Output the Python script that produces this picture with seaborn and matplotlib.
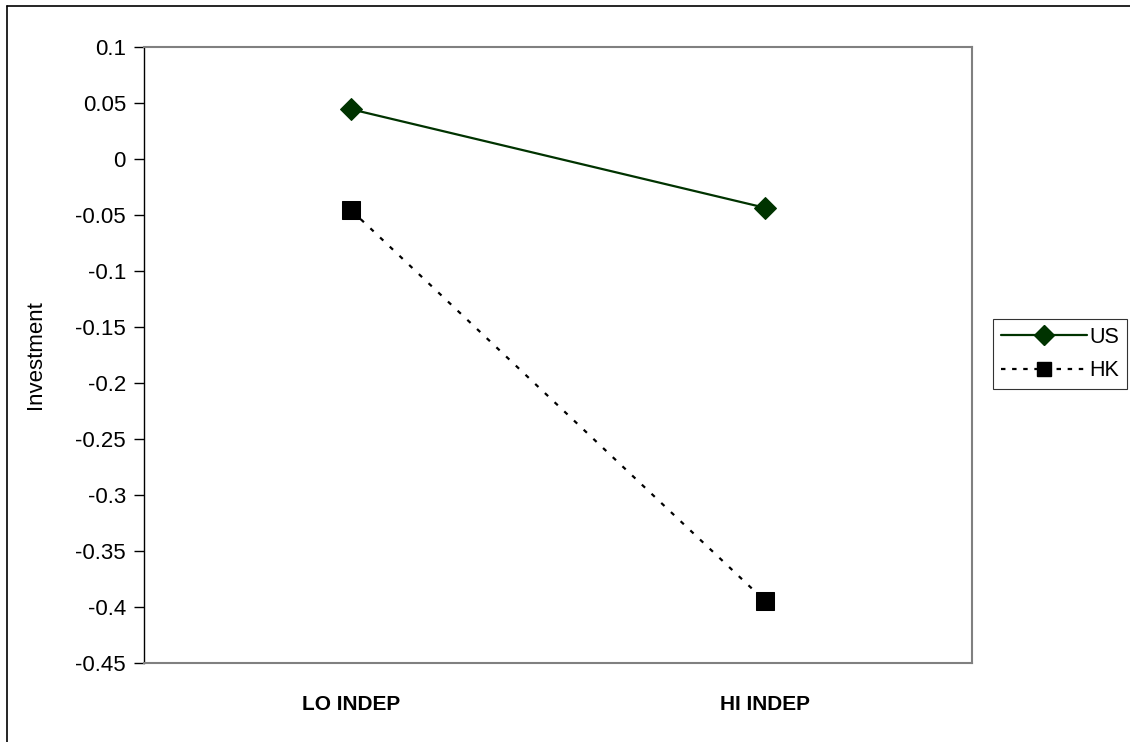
import matplotlib
matplotlib.use("Agg")
import matplotlib.pyplot as plt
import seaborn as sns
import pandas as pd
from matplotlib.lines import Line2D

categories = ["LO INDEP", "HI INDEP"]
us_values = [0.044, -0.044]
hk_values = [-0.046, -0.395]
yticks = [0.1, 0.05, 0, -0.05, -0.1, -0.15, -0.2, -0.25, -0.3, -0.35, -0.4, -0.45]
ytick_labels = ["0.1", "0.05", "0", "-0.05", "-0.1", "-0.15", "-0.2", "-0.25", "-0.3", "-0.35", "-0.4", "-0.45"]

sns.set_style("white")
plt.rcParams['font.family'] = ['Liberation Sans', 'DejaVu Sans']
plt.rcParams['text.color'] = 'black'
plt.rcParams['axes.labelcolor'] = 'black'
plt.rcParams['xtick.color'] = 'black'
plt.rcParams['ytick.color'] = 'black'

fig = plt.figure(figsize=(11.3, 7.42), dpi=100)
ax = fig.add_axes([144/1130, 1 - 662.5/742, 828/1130, 616/742])

xpos = [0, 1]
df_us = pd.DataFrame({"x": xpos, "y": us_values})
df_hk = pd.DataFrame({"x": xpos, "y": hk_values})

sns.lineplot(data=df_us, x="x", y="y", ax=ax, color="#003300", linewidth=1.6,
             marker="D", markersize=11.5, markeredgecolor="#003300", label="US")
sns.lineplot(data=df_hk, x="x", y="y", ax=ax, color="black", linewidth=1.6,
             marker="s", markersize=13, markeredgecolor="black", label="HK")
ax.lines[1].set_dashes((2, 4))

ax.set_xlim(-0.5, 1.5)
ax.set_ylim(-0.45, 0.1)
ax.set_xticks(xpos)
ax.set_xticklabels(categories, fontsize=15, fontweight="bold")
ax.set_yticks(yticks)
ax.set_yticklabels(ytick_labels, fontsize=16)
ax.tick_params(axis="y", which="both", left=True, length=7, width=1, color="black", pad=6)
ax.tick_params(axis="x", bottom=False, pad=20)
ax.set_xlabel("")
ax.set_ylabel("Investment", fontsize=16, labelpad=21)

for side in ["top", "right", "bottom"]:
    ax.spines[side].set_color("#808080")
    ax.spines[side].set_linewidth(1.5)
ax.spines["left"].set_color("black")
ax.spines["left"].set_linewidth(1)

ax.get_legend().remove()
handles = [Line2D([0], [0], color="#003300", lw=1.6, marker="D", markersize=10, markeredgecolor="#003300"),
           Line2D([0], [0], color="black", lw=1.6, marker="s", markersize=10.5, dashes=(2, 3))]
leg = fig.legend(handles, ["US", "HK"], loc="center", bbox_to_anchor=(1060/1130, 1 - 354/742),
                 fontsize=15.5, frameon=True, fancybox=False, handlelength=4.0,
                 handletextpad=0.1, borderpad=0.35, labelspacing=0.6, borderaxespad=0)
leg.get_frame().set_edgecolor("black")
leg.get_frame().set_linewidth(0.8)

# outer chart border (top and left)
fig.add_artist(Line2D([7/1130, 1], [1 - 6/742, 1 - 6/742], transform=fig.transFigure, color="black", lw=1.2))
fig.add_artist(Line2D([7/1130, 7/1130], [0, 1 - 6/742], transform=fig.transFigure, color="black", lw=1.2))

fig.savefig("out.png", dpi=100)
